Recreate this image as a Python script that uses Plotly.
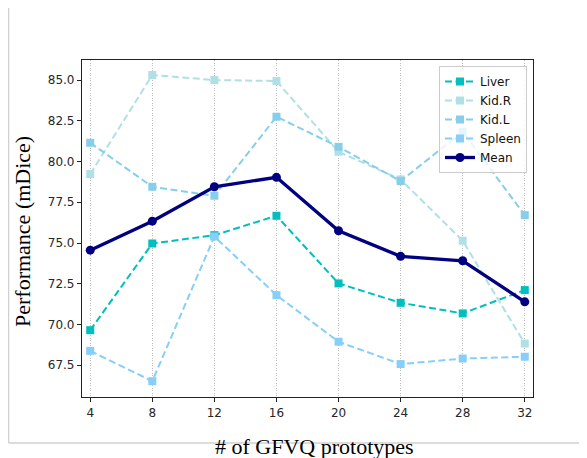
import plotly.graph_objects as go

prototypes = [4, 8, 12, 16, 20, 24, 28, 32]
liver = [69.65, 74.97, 75.48, 76.67, 72.52, 71.33, 70.68, 72.11]
kid_r = [79.23, 85.31, 85.00, 84.94, 80.60, 78.90, 75.14, 68.83]
kid_l = [81.15, 78.45, 77.90, 82.75, 80.90, 78.80, 81.83, 76.71]
spleen = [68.38, 66.52, 75.40, 71.80, 68.94, 67.57, 67.91, 68.02]
mean = [74.56, 76.34, 78.45, 79.03, 75.75, 74.18, 73.91, 71.39]

y_ticks = [67.5, 70.0, 72.5, 75.0, 77.5, 80.0, 82.5, 85.0]
y_tick_labels = ["%.1f" % v for v in y_ticks]

# page has an 8px body margin; figure is sized to fit the window
OFF = 8
W, H = 587 - OFF, 458 - OFF
L, R, T, B = 82 - OFF, 54, 60 - OFF, 61
PW, PH = W - L - R, H - T - B


def px(x):
    return (x - OFF - L) / PW


def py(y):
    return (H - B - (y - OFF)) / PH


series = [
    ("Liver", liver, "#00BFBF"),
    ("Kid.R", kid_r, "#B0E0E6"),
    ("Kid.L", kid_l, "#87CEEB"),
    ("Spleen", spleen, "#87CEFA"),
]

fig = go.Figure()
for name, vals, col in series:
    fig.add_trace(go.Scatter(
        x=prototypes, y=vals, name=name, mode="lines+markers",
        line=dict(color=col, width=2, dash="7px,3.5px"),
        marker=dict(symbol="square", size=8, color=col),
    ))
fig.add_trace(go.Scatter(
    x=prototypes, y=mean, name="Mean", mode="lines+markers",
    line=dict(color="#000080", width=3.3),
    marker=dict(symbol="circle", size=9, color="#000080"),
))

axis_common = dict(
    showline=True, linecolor="#222222", linewidth=1.2, mirror=True,
    ticks="outside", ticklen=4, tickwidth=1, tickcolor="#222222",
    tickfont=dict(family="DejaVu Sans", size=12, color="#262626"),
    zeroline=False,
)

fig.update_xaxes(
    range=[3.47, 32.53], tickvals=prototypes,
    ticktext=[str(v) for v in prototypes],
    showgrid=True, gridcolor="#bdbdbd", griddash="1px,1.5px", gridwidth=1,
    **axis_common,
)
fig.update_yaxes(
    range=[65.55, 86.23], tickvals=y_ticks, ticktext=y_tick_labels,
    showgrid=False,
    **axis_common,
)

fig.update_layout(
    width=W, height=H,
    margin=dict(l=L, r=R, t=T, b=B, autoexpand=False),
    paper_bgcolor="white", plot_bgcolor="white",
    showlegend=True,
    legend=dict(
        x=px(527), y=py(66), xanchor="right", yanchor="top",
        bgcolor="rgba(255,255,255,0.8)", bordercolor="#cccccc", borderwidth=1,
        font=dict(family="DejaVu Sans", size=12, color="#111111"),
        tracegroupgap=0, itemwidth=30,
    ),
    shapes=[
        dict(type="line", xref="paper", yref="paper",
             x0=px(8.5), x1=px(8.5), y0=py(7), y1=py(443),
             line=dict(color="#d0d0d0", width=1.5)),
        dict(type="line", xref="paper", yref="paper",
             x0=px(8.5), x1=px(587), y0=py(443), y1=py(443),
             line=dict(color="#d0d0d0", width=1.5)),
    ],
    annotations=[
        dict(text="# of GFVQ prototypes", xref="paper", yref="paper",
             x=px(314), y=py(446), xanchor="center", yanchor="middle",
             showarrow=False,
             font=dict(family="Liberation Serif", size=22, color="#000000")),
        dict(text="Performance (mDice)", xref="paper", yref="paper",
             x=px(22), y=py(232), xanchor="center", yanchor="middle",
             textangle=-90, showarrow=False,
             font=dict(family="Liberation Serif", size=22, color="#000000")),
    ],
)

fig.write_html("out.html")
